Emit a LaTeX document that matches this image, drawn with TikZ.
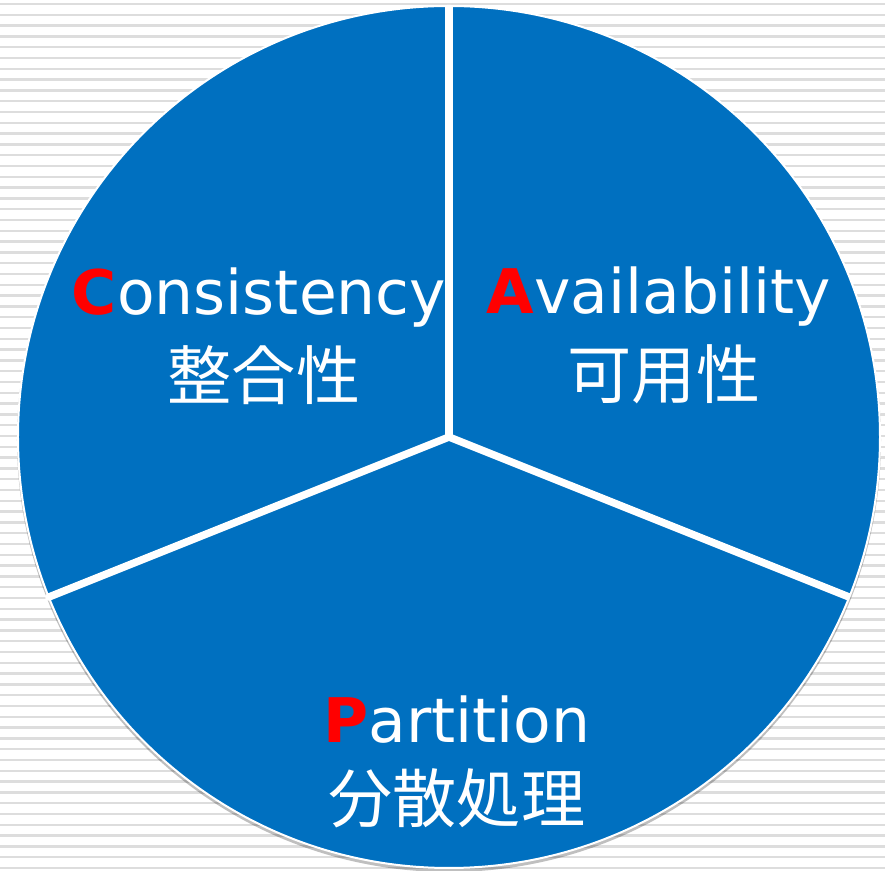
\documentclass[tikz,border=0pt]{standalone}
\usepackage{fontspec}
\setmainfont{DejaVu Sans}
\newfontfamily\jpfont{Noto Sans CJK JP}
\usepackage{tikz}
\definecolor{capblue}{HTML}{0070C0}
\definecolor{stripegray}{HTML}{DDDDDD}
\tikzset{
every picture/.style={very thick},
word/.style={text=white, font=\fontsize{35pt}{42pt}\selectfont, inner sep=0pt},
jpword/.style={text=white, font=\jpfont\fontsize{36.5pt}{44pt}\selectfont, inner sep=0pt},
divider/.style={white, line width=0.15cm}
}
\newcommand{\capletter}[1]{\textcolor{red}{\bfseries #1}}

\begin{document}
\begin{tikzpicture}
      \useasboundingbox (-8.98,-8.68) rectangle (8.72,8.74);
      \foreach \i in {0,...,80}
        \draw[stripegray, line width=0.05cm] (-8.98,8.66-\i*0.216) -- (8.72,8.66-\i*0.216);
      \fill[black, opacity=0.25] (0,-0.06) circle (8.64cm);
      \draw[capblue, fill=capblue, draw=white, line width=0.04cm] (0,0) circle (8.62cm);
      \coordinate (o) at (0,0);
      \coordinate (top) at (90:8.62);
      \coordinate (left) at (201.8:8.62);
      \coordinate (right) at (-21.8:8.62);
      \draw[divider] (o) -- (top);
      \draw[divider, line cap=round] (o) -- (left);
      \draw[divider] (o) -- (right);
      \node[word, anchor=base] (cons) at (-3.8,2.44) {\capletter{C}onsistency};
      \node[jpword, anchor=base] (consjp) at ([xshift=0.1cm, yshift=-1.7cm]cons.base) {整合性};
      \node[word, anchor=base] (avail) at (4.2,2.46) {\capletter{A}vailability};
      \node[jpword, anchor=base] (availjp) at ([xshift=0.1cm, yshift=-1.7cm]avail.base) {可用性};
      \node[word, anchor=base] (part) at (0.16,-6.12) {\capletter{P}artition};
      \node[jpword, anchor=base] (partjp) at ([yshift=-1.6cm]part.base) {分散処理};
    \end{tikzpicture}
\end{document}
